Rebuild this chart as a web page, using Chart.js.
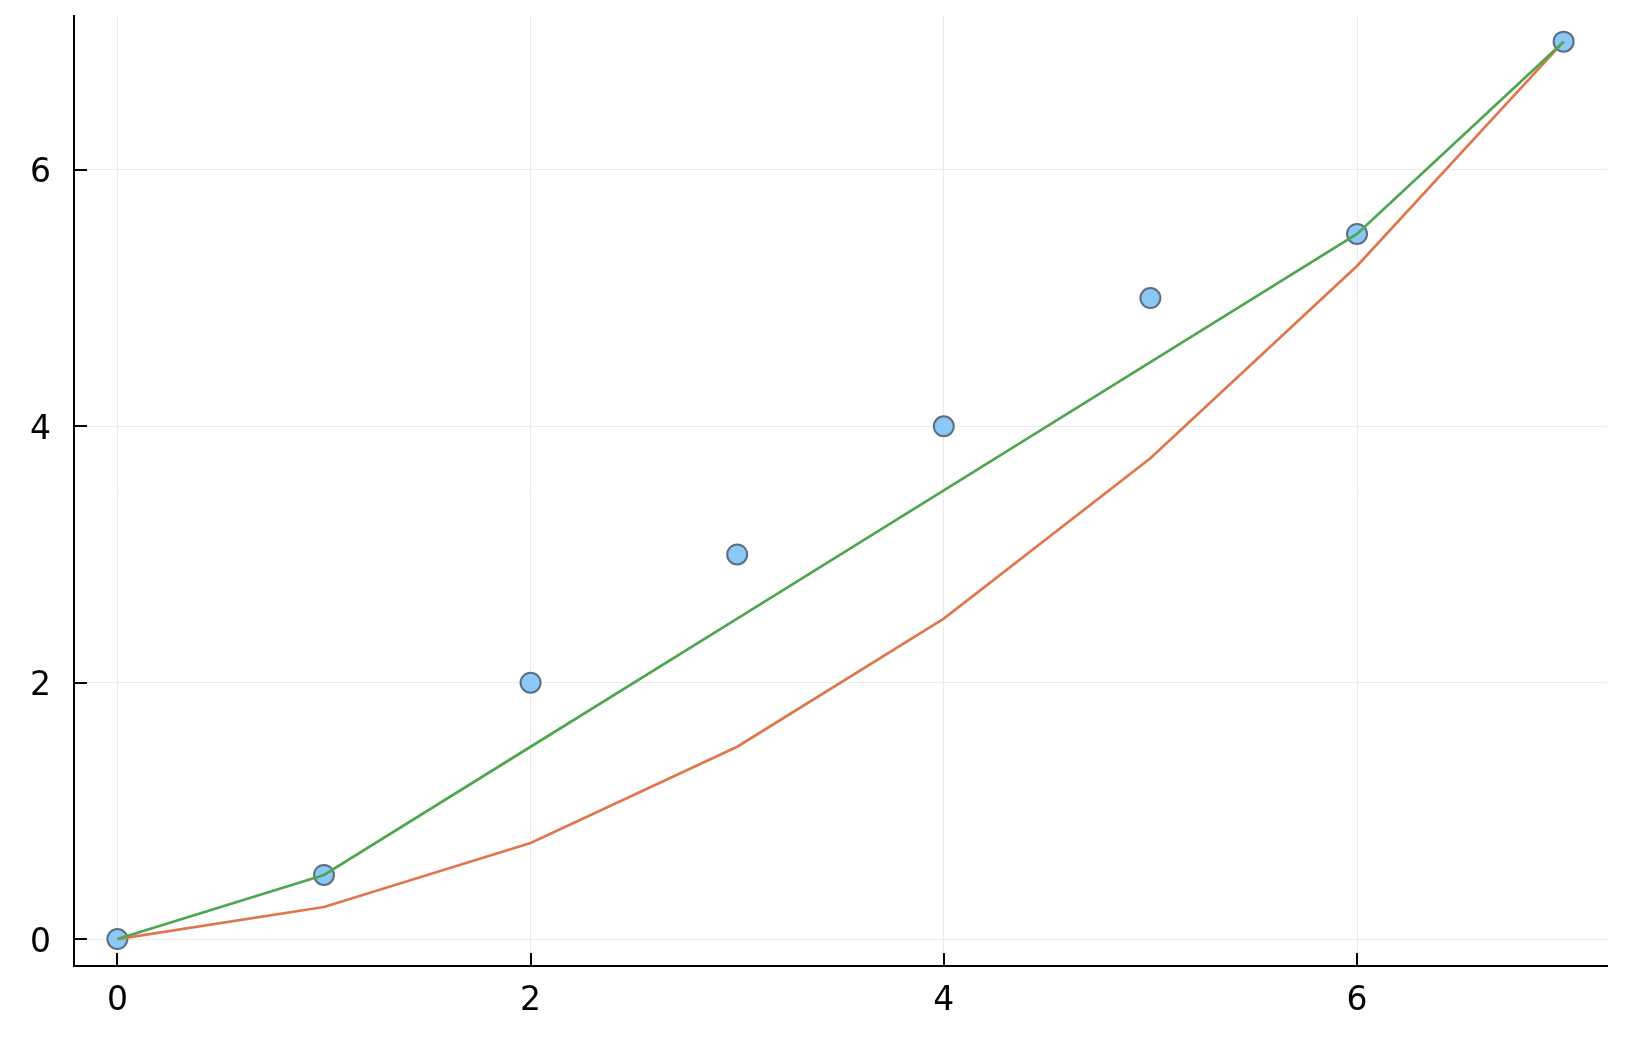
<!DOCTYPE html>
<html>
<head>
<meta charset="utf-8">
<script src="https://cdn.jsdelivr.net/npm/chart.js@4/dist/chart.umd.min.js"></script>
<style>
  html, body { margin: 0; padding: 0; background: #fff; }
  #wrap { width: 1636px; height: 1042px; }
</style>
</head>
<body>
<div id="wrap"><canvas id="c" width="1636" height="1042"></canvas></div>
<script>
  // ── DATA ─────────────────────────────────────────
  const xs         = [0, 1, 2, 3, 4, 5, 6, 7];
  const observed   = [0, 0.5, 2, 3, 4, 5, 5.5, 7];
  const greenLine  = [0, 0.5, 1.5, 2.5, 3.5, 4.5, 5.5, 7];
  const orangeLine = [0, 0.25, 0.75, 1.5, 2.5, 3.75, 5.25, 7];
  const xTicks     = [0, 2, 4, 6];
  const yTicks     = [0, 2, 4, 6];

  const toPts = ys => xs.map((x, i) => ({ x, y: ys[i] }));

  // inward tick marks, like the reference
  const innerTicks = {
    id: 'innerTicks',
    afterDraw(chart) {
      const { ctx, chartArea: a, scales: { x, y } } = chart;
      ctx.save();
      ctx.strokeStyle = '#000';
      ctx.lineWidth = 2;
      ctx.beginPath();
      xTicks.forEach(v => {
        const px = Math.round(x.getPixelForValue(v));
        ctx.moveTo(px, a.bottom); ctx.lineTo(px, a.bottom - 13);
      });
      yTicks.forEach(v => {
        const py = Math.round(y.getPixelForValue(v));
        ctx.moveTo(a.left, py); ctx.lineTo(a.left + 13, py);
      });
      ctx.stroke();
      ctx.restore();
    }
  };

  const tickFont = { family: 'DejaVu Sans', size: 33 };

  // no extra room for half labels: the plot box is placed by layout padding
  const noPad = s => {
    s.paddingTop = 0; s.paddingBottom = 0; s.paddingLeft = 0; s.paddingRight = 0;
  };

  new Chart(document.getElementById('c'), {
    type: 'scatter',
    data: {
      datasets: [
        {
          label: 'green',
          type: 'line',
          data: toPts(greenLine),
          borderColor: '#4ea650',
          borderWidth: 2.7,
          pointRadius: 0,
          tension: 0,
          order: 1
        },
        {
          label: 'orange',
          type: 'line',
          data: toPts(orangeLine),
          borderColor: '#e0774c',
          borderWidth: 2.7,
          pointRadius: 0,
          tension: 0,
          order: 2
        },
        {
          label: 'data',
          data: toPts(observed),
          backgroundColor: '#8bc8f6',
          borderColor: '#5c6e80',
          borderWidth: 2,
          pointRadius: 10,
          order: 3
        }
      ]
    },
    options: {
      responsive: false,
      animation: false,
      layout: { padding: { top: 16, right: 29, left: 0, bottom: 0 } },
      plugins: { legend: { display: false }, tooltip: { enabled: false } },
      scales: {
        x: {
          type: 'linear',
          min: -0.21, max: 7.21,
          afterBuildTicks: s => { s.ticks = xTicks.map(v => ({ value: v })); },
          afterFit: s => { s.height = 76; noPad(s); },
          ticks: { color: '#000', font: tickFont, padding: 16 },
          grid: { color: '#ebebeb', lineWidth: 1, drawTicks: false },
          border: { display: true, color: '#000', width: 2 }
        },
        y: {
          type: 'linear',
          min: -0.21, max: 7.2,
          afterBuildTicks: s => { s.ticks = yTicks.map(v => ({ value: v })); },
          afterFit: s => { s.width = 74; noPad(s); },
          ticks: { color: '#000', font: tickFont, padding: 23, labelOffset: 4 },
          grid: { color: '#ebebeb', lineWidth: 1, drawTicks: false },
          border: { display: true, color: '#000', width: 2 }
        }
      }
    },
    plugins: [innerTicks]
  });
</script>
</body>
</html>
